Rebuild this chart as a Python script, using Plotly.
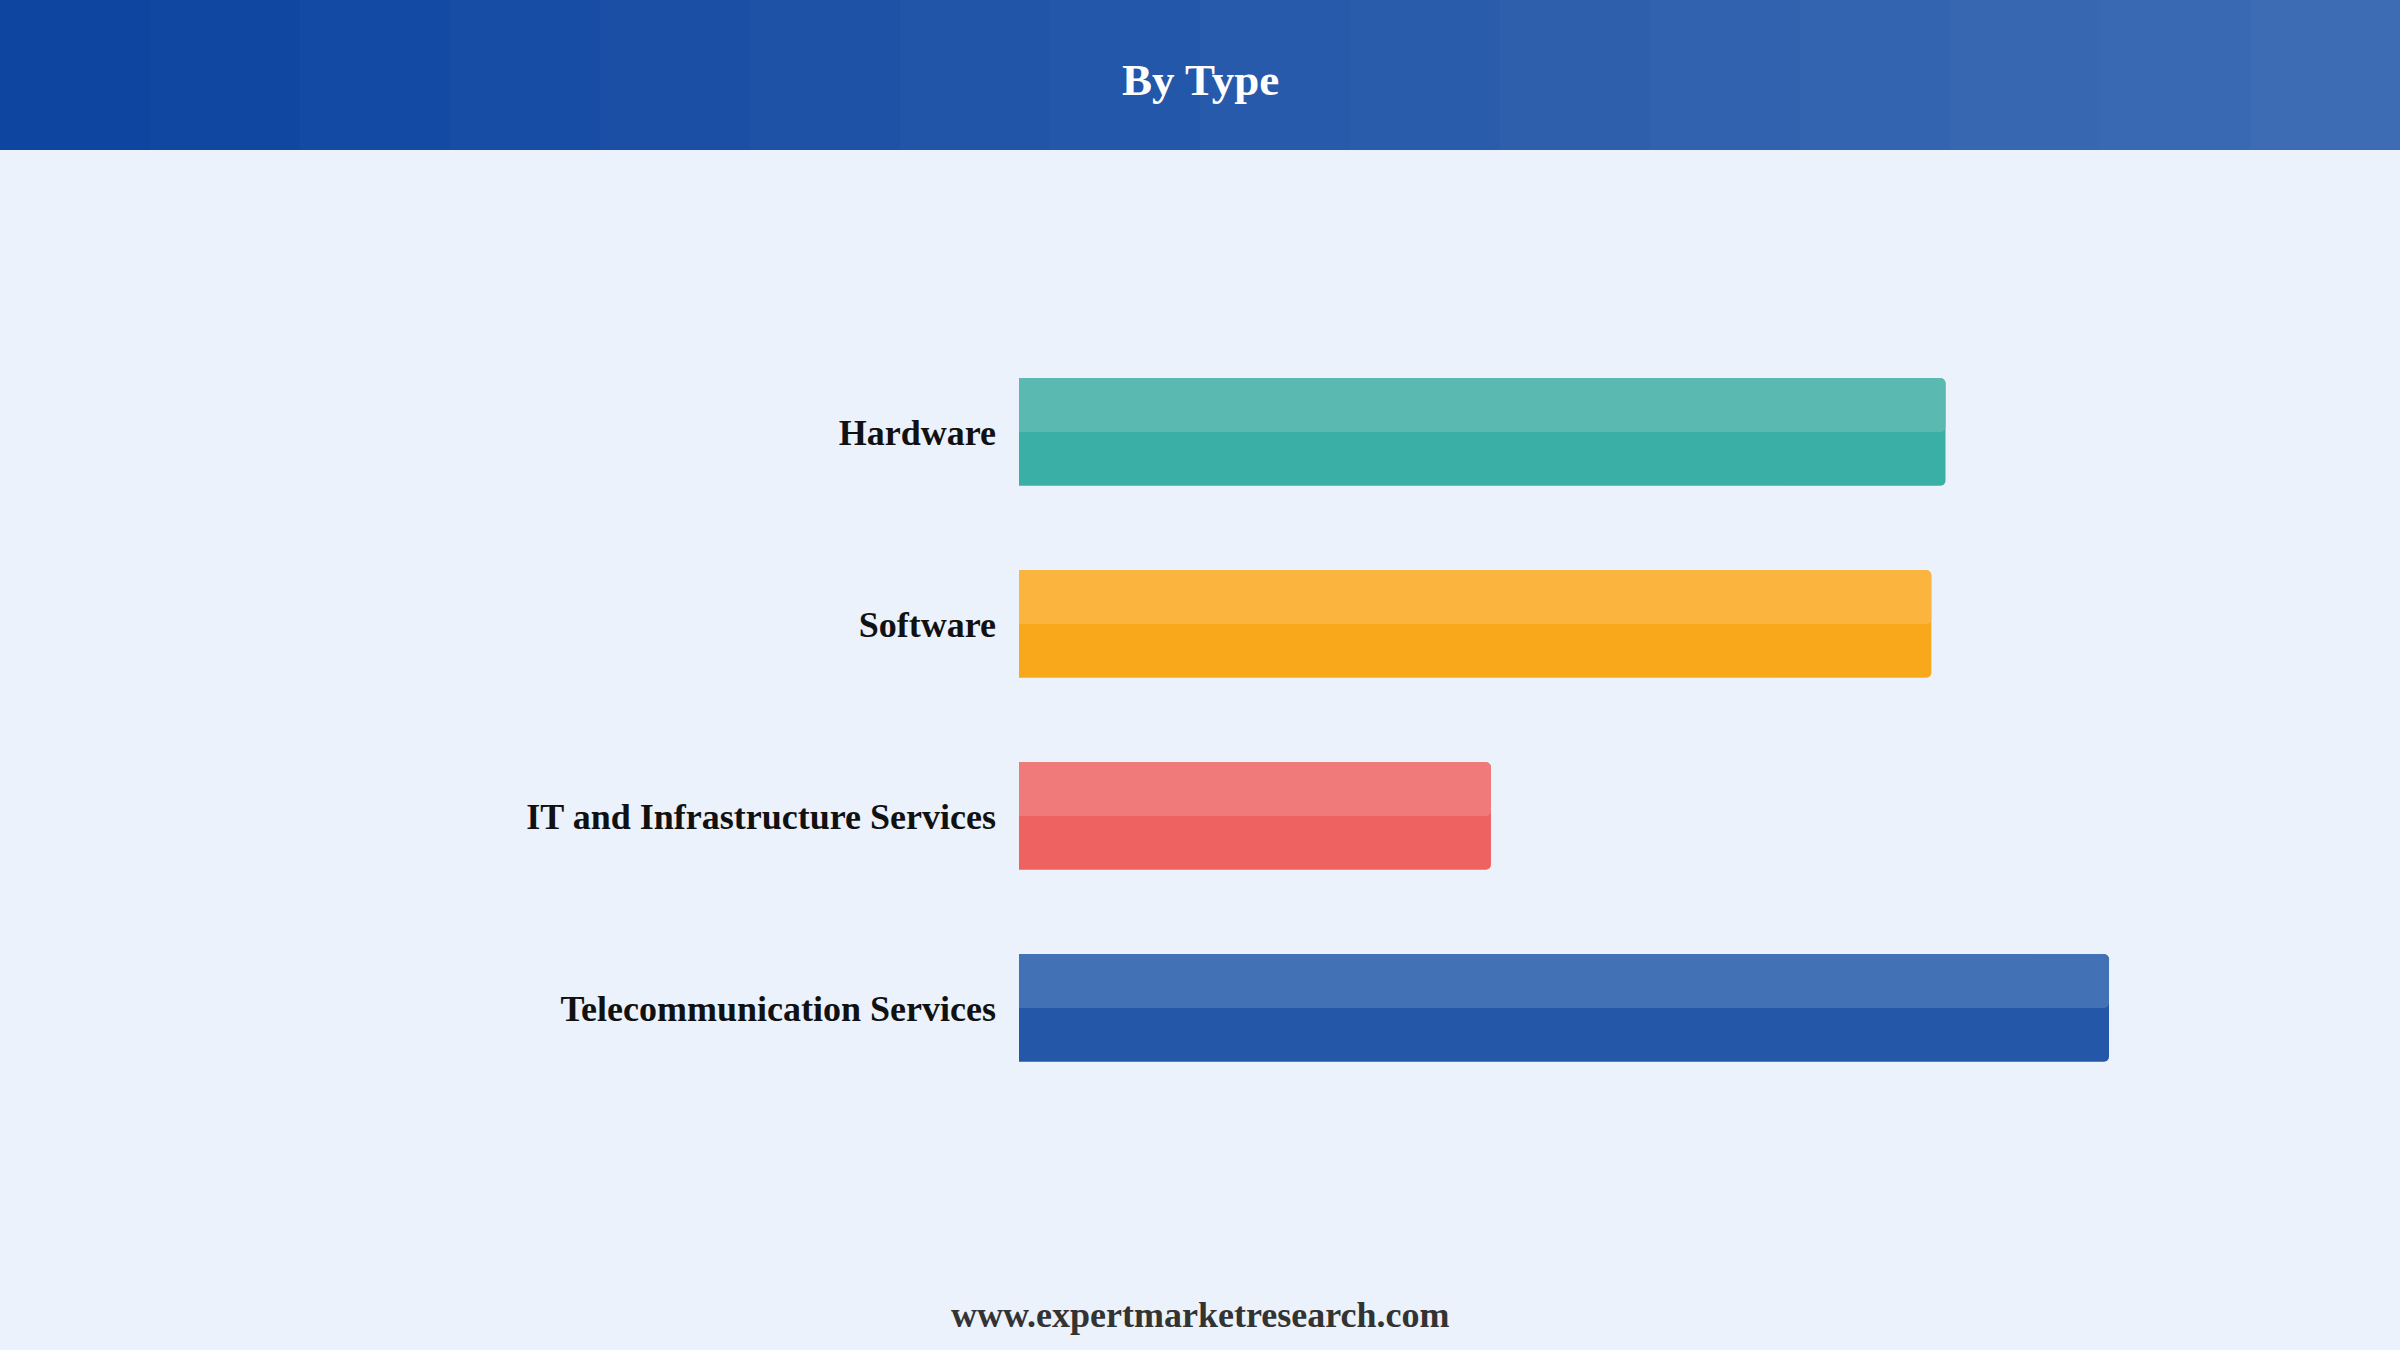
import plotly.graph_objects as go

# ---- data ----
categories = ["Hardware", "Software", "IT and Infrastructure Services", "Telecommunication Services"]
values = [85.0, 83.7, 43.3, 100.0]
base_colors = ["#3AAFA6", "#FAA81B", "#EF6262", "#2457A8"]
light_colors = ["#5AB9B1", "#FBB43E", "#F07A7A", "#4271B6"]
title_text = "By Type"
footer_text = "www.expertmarketresearch.com"

W, H = 2400, 1350
BG = "#EBF2FB"
BAR_W = 0.56

fig = go.Figure()
fig.add_trace(go.Bar(
    y=categories, x=values, orientation="h",
    marker=dict(color=base_colors, line=dict(width=0)),
    width=BAR_W, offset=-BAR_W / 2, hoverinfo="skip", showlegend=False,
))
fig.add_trace(go.Bar(
    y=categories, x=values, orientation="h",
    marker=dict(color=light_colors, line=dict(width=0)),
    width=BAR_W / 2, offset=-BAR_W / 2, hoverinfo="skip", showlegend=False,
))

margin_l, margin_r, margin_t, margin_b = 1019, 181, 336, 246
plot_w = W - margin_l - margin_r
plot_h = H - margin_t - margin_b
header_h = 150

# header gradient made of thin strips
c0 = (0x0D, 0x45, 0xA0)
c1 = (0x3D, 0x6C, 0xB4)
N = 16
shapes = []
for i in range(N):
    t = i / (N - 1)
    col = "rgb(%d,%d,%d)" % tuple(round(a + (b - a) * t) for a, b in zip(c0, c1))
    px0 = i * W / N
    px1 = (i + 1) * W / N + 1
    shapes.append(dict(
        type="rect", xref="paper", yref="paper", layer="below",
        x0=(px0 - margin_l) / plot_w, x1=(px1 - margin_l) / plot_w,
        y0=(H - margin_b - header_h) / plot_h, y1=(H - margin_b) / plot_h + 0.01,
        fillcolor=col, line=dict(width=0),
    ))

fig.update_layout(
    width=W, height=H,
    margin=dict(l=margin_l, r=margin_r, t=margin_t, b=margin_b, autoexpand=False),
    paper_bgcolor=BG, plot_bgcolor=BG,
    barmode="overlay", barcornerradius=5,
    showlegend=False,
    shapes=shapes,
    xaxis=dict(range=[0, plot_w * 100 / 1090], visible=False, fixedrange=True),
    yaxis=dict(
        categoryorder="array", categoryarray=categories,
        range=[3.5, -0.5], showgrid=False, zeroline=False, showline=False,
        ticks="", ticklabelstandoff=22,
        tickfont=dict(family="Liberation Serif", size=36, color="#111111", weight="bold"),
    ),
    annotations=[
        dict(text="<b>%s</b>" % title_text, xref="paper", yref="paper",
             x=(1200 - margin_l) / plot_w, y=(H - margin_b - 80) / plot_h,
             xanchor="center", yanchor="middle", showarrow=False,
             font=dict(family="Liberation Serif", size=45, color="white")),
        dict(text="<b>%s</b>" % footer_text, xref="paper", yref="paper",
             x=(1200 - margin_l) / plot_w, y=(H - margin_b - 1315) / plot_h,
             xanchor="center", yanchor="middle", showarrow=False,
             font=dict(family="Liberation Serif", size=36, color="#333333")),
    ],
)

fig.write_html("out.html", config={"displayModeBar": False},
               post_script="document.body.style.margin='0';document.body.style.overflow='hidden';")
